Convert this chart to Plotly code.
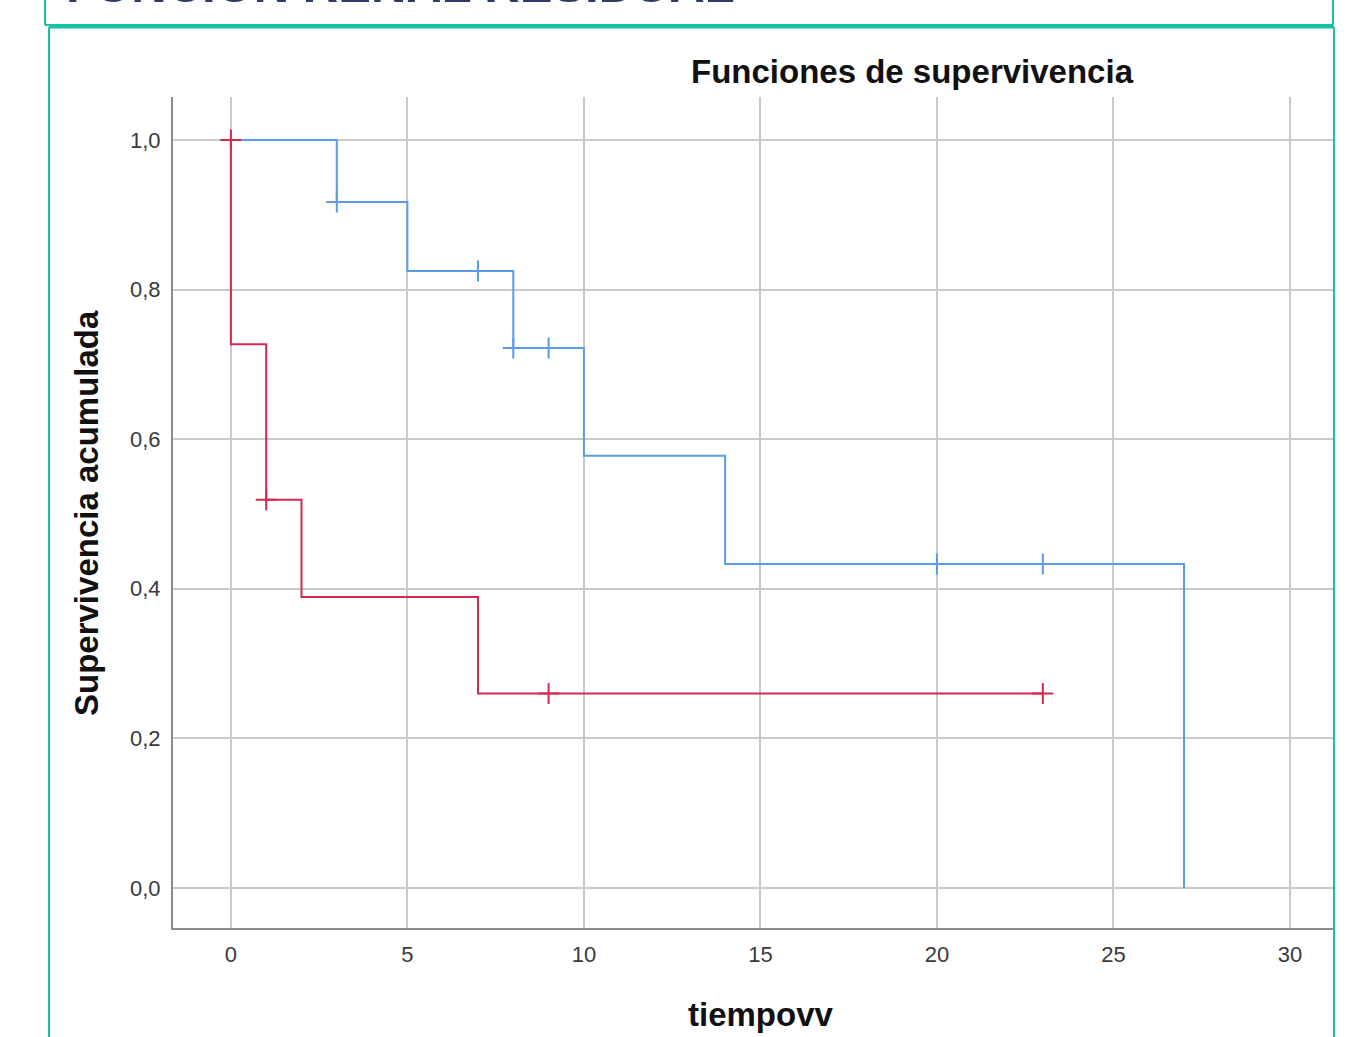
import plotly.graph_objects as go

# ---- data ----
blue_times = [0, 3, 5, 8, 10, 14, 27]
blue_surv = [1.0, 0.917, 0.825, 0.722, 0.578, 0.433, 0.0]
blue_cens_t = [3, 7, 8, 9, 20, 23]
blue_cens_s = [0.917, 0.825, 0.722, 0.722, 0.433, 0.433]

red_times = [0, 0, 1, 2, 7, 23]
red_surv = [1.0, 0.727, 0.519, 0.389, 0.26, 0.26]
red_cens_t = [0, 1, 9, 23]
red_cens_s = [1.0, 0.519, 0.26, 0.26]

x_ticks = [0, 5, 10, 15, 20, 25, 30]
y_ticks = [0.0, 0.2, 0.4, 0.6, 0.8, 1.0]
y_ticklabels = ["0,0", "0,2", "0,4", "0,6", "0,8", "1,0"]

BLUE = "#5B9BE8"
RED = "#D8284E"
TEAL = "#17C2A4"
FONT = "Liberation Sans, Arial, sans-serif"

W, H = 1367, 1037
L, R, T, B = 173, 1333, 97, 928


def px(xp):
    return (xp - L) / (R - L)


def py(yp):
    return (B - yp) / (B - T)


fig = go.Figure()
fig.add_trace(go.Scatter(x=blue_times, y=blue_surv, mode="lines", line=dict(color=BLUE, width=2, shape="hv"),
                         showlegend=False, hoverinfo="skip"))
fig.add_trace(go.Scatter(x=red_times, y=red_surv, mode="lines", line=dict(color=RED, width=2, shape="hv"),
                         showlegend=False, hoverinfo="skip"))
fig.add_trace(go.Scatter(x=blue_cens_t, y=blue_cens_s, mode="markers",
                         marker=dict(symbol="cross-thin", size=15, line=dict(color=BLUE, width=2)),
                         showlegend=False, hoverinfo="skip"))
fig.add_trace(go.Scatter(x=red_cens_t, y=red_cens_s, mode="markers",
                         marker=dict(symbol="cross-thin", size=15, line=dict(color=RED, width=2)),
                         showlegend=False, hoverinfo="skip"))

fig.update_xaxes(range=[-1.64, 31.22], tickvals=x_ticks, ticktext=[str(v) for v in x_ticks],
                 showgrid=True, gridcolor="#CACACA", gridwidth=2, zeroline=False,
                 showline=True, linecolor="#8A8A8A", linewidth=2, ticks="", ticklabelstandoff=6,
                 tickfont=dict(family=FONT, size=22, color="#3A3A3A"))
fig.update_yaxes(range=[-0.0535, 1.0575], tickvals=y_ticks, ticktext=y_ticklabels,
                 showgrid=True, gridcolor="#CACACA", gridwidth=2, zeroline=False,
                 showline=True, linecolor="#8A8A8A", linewidth=2, ticks="", ticklabelstandoff=6,
                 tickfont=dict(family=FONT, size=22, color="#3A3A3A"))

shapes = []
def seg(x0, y0, x1, y1, w=2):
    shapes.append(dict(type="line", xref="paper", yref="paper", x0=px(x0), y0=py(y0), x1=px(x1), y1=py(y1),
                       line=dict(color=TEAL, width=w), layer="above"))

# top (cut) box
seg(45, -2, 45, 25)
seg(45, 25, 1333, 25)
seg(1333, -2, 1333, 25)
# main box
seg(49, 27, 1334, 27, 3)
seg(49, 27, 49, 1040)
seg(1334, 27, 1334, 1040)

annotations = [
    dict(text="<b>FUNCIÓN RENAL RESIDUAL</b>", xref="paper", yref="paper", x=px(64), y=py(13.5),
         xanchor="left", yanchor="bottom", showarrow=False,
         font=dict(family=FONT, size=49, color="#2E3B6A")),
    dict(text="<b>Funciones de supervivencia</b>", xref="paper", yref="paper", x=px(912), y=py(71),
         xanchor="center", yanchor="middle", showarrow=False,
         font=dict(family=FONT, size=33, color="#111111")),
    dict(text="<b>Supervivencia acumulada</b>", xref="paper", yref="paper", x=px(86), y=py(513),
         xanchor="center", yanchor="middle", showarrow=False, textangle=-90,
         font=dict(family=FONT, size=33, color="#111111")),
    dict(text="<b>tiempovv</b>", xref="paper", yref="paper", x=px(761), y=py(1014),
         xanchor="center", yanchor="middle", showarrow=False,
         font=dict(family=FONT, size=33, color="#111111")),
]

fig.update_layout(width=W, height=H, margin=dict(l=L, r=W - R, t=T, b=H - B),
                  paper_bgcolor="white", plot_bgcolor="white",
                  shapes=shapes, annotations=annotations, showlegend=False)

fig.write_html("out.html", config={"displayModeBar": False},
               post_script="document.body.style.margin='0';document.body.style.overflow='hidden';")
